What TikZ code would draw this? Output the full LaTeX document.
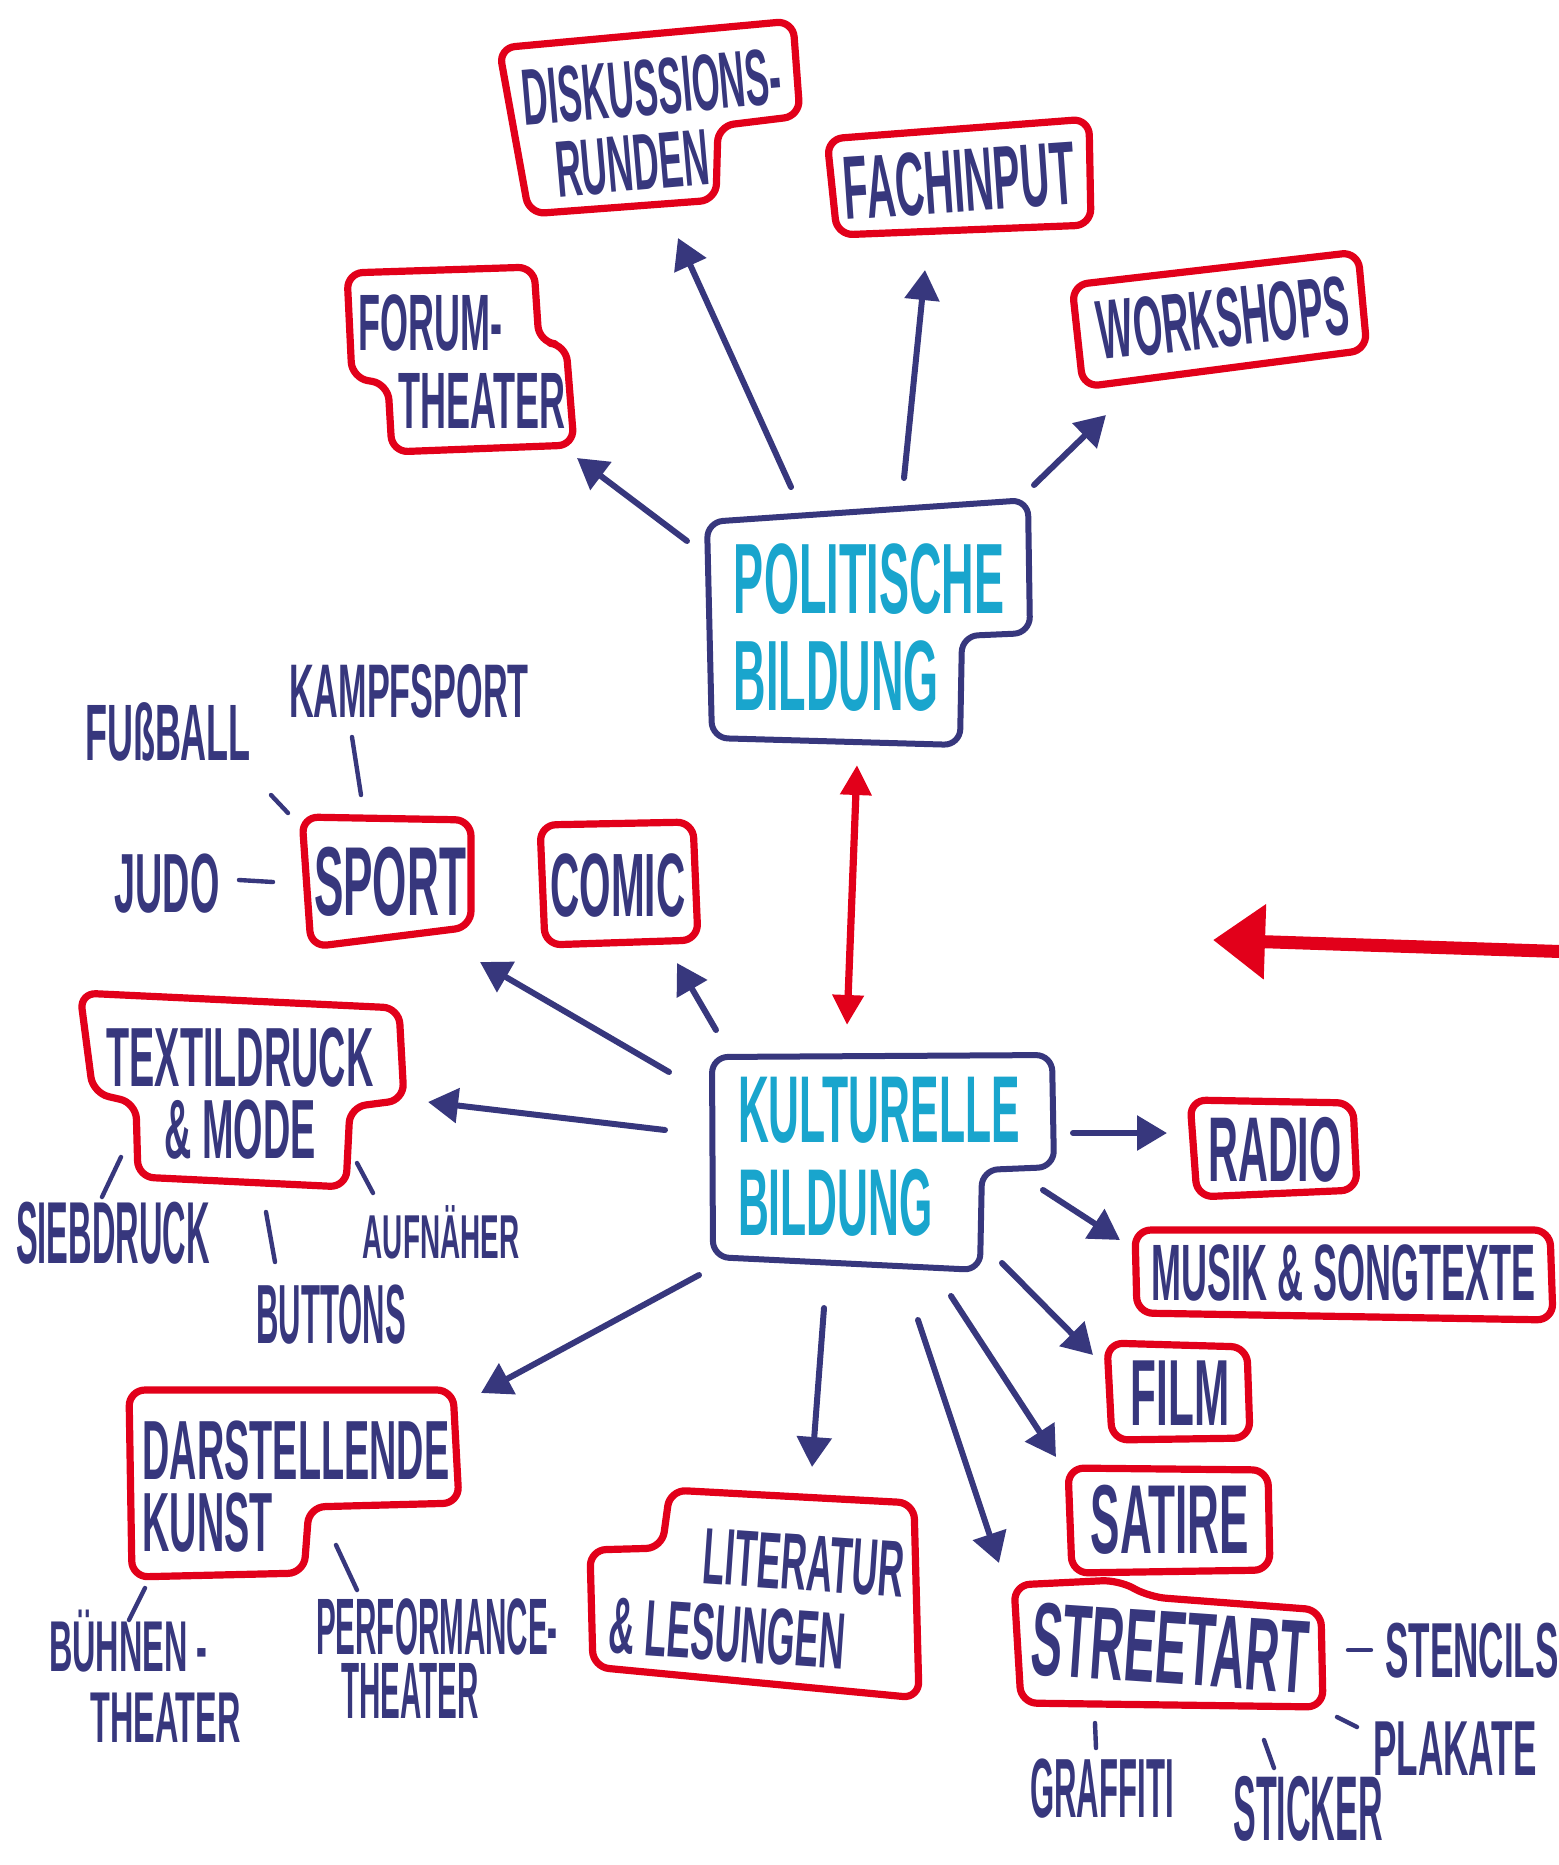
\documentclass[tikz,border=0pt]{standalone}
\usepackage{fontspec}
\usetikzlibrary{arrows.meta}
\newfontfamily\hand{Liberation Sans}[FakeStretch=0.45]
\newfontfamily\handn{Liberation Sans}[FakeStretch=0.37]
\definecolor{navy}{RGB}{55,55,125}
\definecolor{boxred}{RGB}{226,0,26}
\definecolor{cyantext}{RGB}{25,165,205}
\newcommand{\fsz}[2]{\fontsize{#1}{#2}\selectfont}
\tikzset{
  txt/.style n args={2}{inner sep=0pt, text=navy, font=\hand\bfseries\fsz{#1}{#2}},
  ntxt/.style n args={2}{inner sep=0pt, text=navy, font=\handn\bfseries\fsz{#1}{#2}},
  redbox/.style={draw=boxred, line width=3.6pt, rounded corners=8pt, line join=round},
  navybox/.style={draw=navy, line width=3pt, rounded corners=8pt, line join=round},
  arr/.style={draw=navy, line width=3pt, line cap=round, -{Triangle[length=15pt,width=17pt]}},
  redarr/.style={draw=boxred, line width=3.6pt, {Triangle[length=15pt,width=15pt]}-{Triangle[length=15pt,width=15pt]}},
  bigred/.style={draw=boxred, line width=6.5pt, -{Triangle[length=26pt,width=36pt]}},
  tick/.style={draw=navy, line width=2.2pt, line cap=round}
}
\begin{document}
\begin{tikzpicture}[x=0.5pt,y=-0.5pt]
\fill[white] (0,0) rectangle (1559,1865);
\useasboundingbox (0,0) rectangle (1559,1865);

% ---------- main nodes ----------
\node[txt={50}{48.5}, text=cyantext, align=left] (pol) at (869,628) {POLITISCHE\\BILDUNG};
\node[txt={47.5}{46.5}, text=cyantext, align=left] (kul) at (879,1157) {KULTURELLE\\BILDUNG};

\node[txt={40}{37}, align=left, rotate=5] (disk) at (655,124) {DISKUSSIONS-\\\hspace*{13.5pt}RUNDEN};
\node[txt={45}{45}, rotate=4] (fach) at (959,181) {FACHINPUT};
\node[txt={40}{39}, align=left] (forum) at (462,362) {FORUM-\\\hspace*{20pt}THEATER};
\node[txt={42}{42}, rotate=6] (work) at (1223,318) {WORKSHOPS};

\node[txt={49}{49}] (sport) at (390,882) {SPORT};
\node[txt={45}{45}] (comic) at (618,886) {COMIC};
\node[txt={42}{36}, align=center] (tex) at (240,1094) {TEXTILDRUCK\\\&~MODE};
\node[txt={42}{36}, align=left] (dar) at (296,1487) {DARSTELLENDE\\KUNST};
\node[txt={40}{38}, align=left, rotate=-4] (lit) at (757,1598) {\hspace*{44.5pt}LITERATUR\\\&~LESUNGEN};
\node[txt={46}{46}] (radio) at (1275,1150) {RADIO};
\node[txt={40}{40}] (musik) at (1344,1273) {MUSIK \& SONGTEXTE};
\node[txt={47}{47}] (film) at (1180,1393) {FILM};
\node[txt={49}{49}] (satire) at (1170,1520) {SATIRE};
\node[txt={52}{52}, rotate=-4] (street) at (1170,1648) {STREETART};

% ---------- small labels ----------
\node[txt={40}{40}, anchor=base] (fuss) at (168,760) {FUßBALL};
\node[txt={38}{38}, anchor=base] (kampf) at (409,717) {KAMPFSPORT};
\node[txt={42}{42}, anchor=base] (judo) at (167,912) {JUDO};
\node[ntxt={44}{44}, anchor=base] (sieb) at (113,1263) {SIEBDRUCK};
\node[ntxt={42}{42}, anchor=base] (buttons) at (331,1343) {BUTTONS};
\node[txt={31}{31}, anchor=base] (aufn) at (441,1258) {AUFNÄHER};
\node[ntxt={42}{42}, anchor=base] (graff) at (1102,1817) {GRAFFITI};
\node[ntxt={46}{46}, anchor=base] (sticker) at (1308,1840) {STICKER};
\node[txt={39}{39}, anchor=base] (plakate) at (1455,1775) {PLAKATE};
\node[txt={39}{39}, anchor=base] (stencils) at (1472,1677) {STENCILS};
\node[ntxt={40}{32}, align=left] (perf) at (437,1659) {PERFORMANCE-\\\hspace*{12.5pt}THEATER};
\node[txt={36}{35.5}, align=left] (buehnen) at (145,1676) {BÜHNEN~-\\\hspace*{20.5pt}THEATER};

% ---------- box outlines ----------
\draw[navybox] (707,522) -- (1028,500) -- (1030,633) -- (962,636) -- (960,745) -- (712,738) -- cycle;
\draw[navybox] (712,1057) -- (1052,1055) -- (1054,1167) -- (982,1170) -- (980,1270) -- (713,1257) -- cycle;

\draw[redbox] (499,48) -- (793,21) -- (800,116) -- (718,126) -- (716,200) -- (529,214) -- cycle;
\draw[redbox] (827,139) -- (1089,119) -- (1091,225) -- (837,235) -- cycle;
\draw[redbox] (347,273) -- (534,267) -- (539,342) -- (566,345) -- (574,445) -- (392,452) -- (388,384) -- (352,378) -- cycle;
\draw[redbox] (1072,285) -- (1358,252) -- (1367,350) -- (1083,387) -- cycle;
\draw[redbox] (302,817) -- (471,820) -- (471,927) -- (311,947) -- cycle;
\draw[redbox] (540,825) -- (693,822) -- (698,940) -- (545,945) -- cycle;
\draw[redbox] (80,993) -- (399,1008) -- (404,1100) -- (350,1107) -- (346,1187) -- (138,1177) -- (136,1103) -- (93,1093) -- cycle;
\draw[redbox] (129,1390) -- (453,1390) -- (459,1503) -- (309,1507) -- (304,1573) -- (132,1577) -- cycle;
\draw[redbox] (670,1490) -- (914,1503) -- (919,1698) -- (593,1667) -- (590,1550) -- (662,1548) -- cycle;
\draw[redbox] (1190,1100) -- (1353,1103) -- (1357,1190) -- (1197,1197) -- cycle;
\draw[redbox] (1135,1230) -- (1550,1230) -- (1553,1320) -- (1137,1313) -- cycle;
\draw[redbox] (1107,1343) -- (1247,1347) -- (1250,1438) -- (1112,1440) -- cycle;
\draw[redbox] (1068,1468) -- (1268,1470) -- (1270,1570) -- (1072,1573) -- cycle;
\draw[redbox] (1014,1585) -- (1118,1580) -- (1150,1597) -- (1321,1610) -- (1323,1707) -- (1021,1703) -- cycle;

% ---------- arrows from Politische Bildung ----------
\draw[arr] ([shift={(-182,-87)}]pol.center) -- ([shift={(115,96)}]forum.center);
\draw[arr] ([shift={(-78,-141)}]pol.center) -- ([shift={(23,114)}]disk.center);
\draw[arr] ([shift={(35,-150)}]pol.center) -- ([shift={(-34,89)}]fach.center);
\draw[arr] ([shift={(165,-143)}]pol.center) -- ([shift={(-117,97)}]work.center);

% ---------- red double arrow ----------
\draw[redarr] ([shift={(-12,137)}]pol.center) -- ([shift={(-32,-132)}]kul.center);

% ---------- arrows from Kulturelle Bildung ----------
\draw[arr] ([shift={(-210,-85)}]kul.center) -- ([shift={(90,80)}]sport.center);
\draw[arr] ([shift={(-163,-127)}]kul.center) -- ([shift={(59,77)}]comic.center);
\draw[arr] ([shift={(-214,-27)}]kul.center) -- ([shift={(188,8)}]tex.center);
\draw[arr] ([shift={(-180,118)}]kul.center) -- ([shift={(185,-94)}]dar.center);
\draw[arr] ([shift={(-55,151)}]kul.center) -- ([shift={(55,-131)}]lit.center);
\draw[arr] ([shift={(39,163)}]kul.center) -- ([shift={(-171,-85)}]street.center);
\draw[arr] ([shift={(72,139)}]kul.center) -- ([shift={(-114,-63)}]satire.center);
\draw[arr] ([shift={(123,106)}]kul.center) -- ([shift={(-87,-38)}]film.center);
\draw[arr] ([shift={(164,33)}]kul.center) -- ([shift={(-224,-33)}]musik.center);
\draw[arr] ([shift={(194,-24)}]kul.center) -- ([shift={(-108,-17)}]radio.center);

% ---------- big red arrow ----------
\coordinate (redfrom) at (1575,952);
\coordinate (redto) at (1213,940);
\draw[bigred] (redfrom) -- (redto);

% ---------- ticks to small labels ----------
\draw[tick] ([shift={(103,35)}]fuss.base) -- ([shift={(-102,-69)}]sport.center);
\draw[tick] ([shift={(-57,20)}]kampf.base) -- ([shift={(-29,-87)}]sport.center);
\draw[tick] ([shift={(72,-32)}]judo.base) -- ([shift={(-117,0)}]sport.center);
\draw[tick] ([shift={(-119,63)}]tex.center) -- ([shift={(-11,-66)}]sieb.base);
\draw[tick] ([shift={(26,118)}]tex.center) -- ([shift={(-56,-81)}]buttons.base);
\draw[tick] ([shift={(117,69)}]tex.center) -- ([shift={(-68,-65)}]aufn.base);
\draw[tick] ([shift={(-151,101)}]dar.center) -- ([shift={(-16,-56)}]buehnen.center);
\draw[tick] ([shift={(40,58)}]dar.center) -- ([shift={(-80,-69)}]perf.center);
\draw[tick] ([shift={(178,2)}]street.center) -- ([shift={(-101,-27)}]stencils.base);
\draw[tick] ([shift={(167,69)}]street.center) -- ([shift={(-98,-48)}]plakate.base);
\draw[tick] ([shift={(-75,75)}]street.center) -- ([shift={(-6,-69)}]graff.base);
\draw[tick] ([shift={(94,92)}]street.center) -- ([shift={(-34,-72)}]sticker.base);
\end{tikzpicture}
\end{document}
